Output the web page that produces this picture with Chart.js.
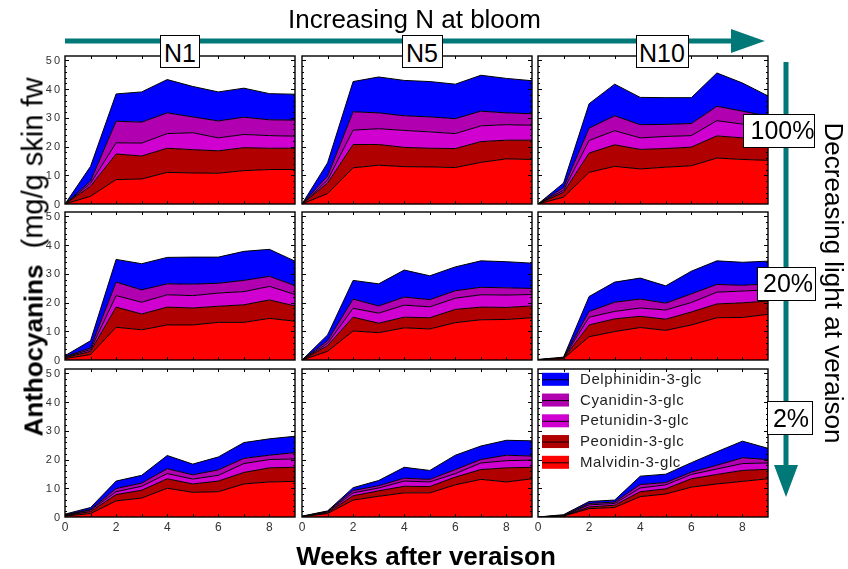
<!DOCTYPE html>
<html><head><meta charset="utf-8">
<script src="https://cdn.jsdelivr.net/npm/chart.js@4.4.1/dist/chart.umd.min.js"></script>
<style>
html,body{margin:0;padding:0;background:#fff}
body{width:848px;height:569px;position:relative;overflow:hidden;font-family:"Liberation Sans",Arial,sans-serif;color:#000}
canvas.panel{position:absolute}
svg#arrows{position:absolute;left:0;top:0}
.box{position:absolute;box-sizing:border-box;border:1px solid #000;background:#fff}
.txt{position:absolute;line-height:1;white-space:nowrap}
</style></head>
<body>
<svg id="arrows" width="848" height="569"></svg>
<script>
// ---------------- DATA ----------------
const weeks = [0,1,2,3,4,5,6,7,8,9];
const compounds = ['Malvidin-3-glc','Peonidin-3-glc','Petunidin-3-glc','Cyanidin-3-glc','Delphinidin-3-glc'];
const nLevels = ['N1','N5','N10'];
const lightLevels = ['100%','20%','2%'];
const yTickLabels = [0,10,20,30,40,50];
const xTickLabels = [0,2,4,6,8];

// N1, 100% light
const mal_N1_100 = [0, 2.7, 8.5, 8.7, 11.0, 10.8, 10.7, 11.6, 12.0, 12.0];
const peo_N1_100 = [0, 3.5, 8.9, 8.0, 8.4, 8.1, 7.8, 8.0, 7.4, 7.4];
const pet_N1_100 = [0, 1.0, 3.9, 4.5, 5.1, 5.9, 4.5, 4.6, 4.4, 4.2];
const cya_N1_100 = [0, 0.8, 7.5, 7.3, 7.2, 5.5, 5.9, 6.0, 5.5, 5.6];
const del_N1_100 = [0, 5.1, 9.5, 10.5, 11.6, 10.6, 10.1, 10.1, 9.1, 9.0];
// N5, 100% light
const mal_N5_100 = [0, 3.6, 12.6, 13.5, 13.0, 12.9, 12.7, 14.5, 15.7, 15.5];
const peo_N5_100 = [0, 3.7, 8.1, 7.2, 6.7, 6.5, 6.6, 7.2, 6.5, 6.7];
const pet_N5_100 = [0, 1.0, 5.0, 5.5, 5.9, 5.7, 5.2, 5.5, 5.4, 5.2];
const cya_N5_100 = [0, 1.4, 6.4, 5.5, 5.1, 5.2, 5.2, 5.1, 4.1, 4.0];
const del_N5_100 = [0, 4.6, 10.5, 12.5, 12.3, 12.3, 12.0, 12.5, 12.0, 11.5];
// N10, 100% light
const mal_N10_100 = [0, 2.4, 11.0, 13.1, 12.2, 12.8, 13.3, 16.0, 15.5, 15.2];
const peo_N10_100 = [0, 1.7, 6.7, 7.5, 6.8, 6.5, 6.5, 7.7, 7.5, 7.2];
const pet_N10_100 = [0, 0.7, 4.4, 4.9, 4.0, 4.2, 4.0, 5.3, 4.8, 4.9];
const cya_N10_100 = [0, 0.9, 4.3, 5.2, 4.6, 4.2, 4.2, 5.0, 4.5, 3.3];
const del_N10_100 = [0, 1.6, 8.5, 11.0, 9.5, 9.3, 9.0, 11.6, 9.8, 7.0];
// N1, 20% light
const mal_N1_20 = [0.5, 1.9, 11.4, 10.5, 12.2, 12.2, 13.1, 13.1, 14.5, 13.5];
const peo_N1_20 = [0.3, 1.1, 7.0, 5.5, 6.2, 5.9, 5.6, 6.1, 6.4, 5.3];
const pet_N1_20 = [0.2, 0.6, 4.0, 4.1, 4.3, 4.3, 4.6, 4.6, 4.7, 4.0];
const cya_N1_20 = [0.2, 0.6, 4.7, 4.3, 3.8, 4.0, 3.4, 3.9, 3.5, 3.1];
const del_N1_20 = [0.3, 2.5, 7.9, 9.1, 9.2, 9.4, 9.1, 10.1, 9.4, 8.5];
// N5, 20% light
const mal_N5_20 = [0, 3.0, 10.1, 9.5, 11.2, 10.8, 13.0, 14.0, 14.1, 14.7];
const peo_N5_20 = [0, 2.0, 4.8, 3.3, 3.7, 3.9, 4.6, 4.4, 4.2, 4.1];
const pet_N5_20 = [0, 0.8, 3.1, 3.5, 4.2, 3.8, 3.9, 4.3, 4.3, 4.0];
const cya_N5_20 = [0, 0.9, 3.2, 2.5, 2.8, 2.5, 2.6, 2.6, 2.5, 2.1];
const del_N5_20 = [0, 2.0, 6.5, 7.7, 9.4, 8.3, 8.3, 9.2, 9.1, 8.8];
// N10, 20% light
const mal_N10_20 = [0.1, 0.5, 8.1, 9.9, 11.3, 10.3, 12.2, 14.7, 14.8, 15.9];
const peo_N10_20 = [0, 0.1, 4.1, 4.4, 3.9, 3.9, 4.5, 4.8, 5.1, 4.6];
const pet_N10_20 = [0, 0.1, 2.7, 2.6, 2.9, 3.2, 3.3, 4.1, 4.1, 3.9];
const cya_N10_20 = [0, 0.1, 2.0, 3.2, 3.1, 2.4, 3.0, 2.7, 2.0, 2.1];
const del_N10_20 = [0.1, 0.2, 5.2, 7.0, 7.3, 6.0, 7.9, 8.2, 8.0, 7.9];
// N1, 2% light
const mal_N1_2 = [0.3, 1.2, 5.6, 6.6, 10.0, 8.6, 8.8, 11.5, 12.2, 12.4];
const peo_N1_2 = [0.2, 0.7, 2.2, 2.7, 3.3, 2.9, 3.7, 4.0, 4.9, 4.9];
const pet_N1_2 = [0.1, 0.5, 1.0, 1.4, 1.8, 1.7, 2.0, 3.1, 2.9, 2.9];
const cya_N1_2 = [0.1, 0.2, 1.1, 1.1, 1.7, 1.5, 1.9, 1.8, 1.5, 2.2];
const del_N1_2 = [0.3, 0.7, 2.6, 2.7, 4.6, 3.7, 4.5, 5.5, 5.7, 5.7];
// N5, 2% light
const mal_N5_2 = [0.1, 1.2, 5.9, 7.2, 8.4, 8.4, 11.2, 13.1, 12.2, 13.3];
const peo_N5_2 = [0.1, 0.3, 1.5, 1.9, 2.3, 2.2, 2.7, 3.4, 4.9, 4.0];
const pet_N5_2 = [0, 0.3, 1.0, 1.0, 1.8, 1.6, 1.2, 2.3, 2.5, 2.5];
const cya_N5_2 = [0, 0.2, 0.8, 0.8, 1.0, 0.9, 1.4, 1.2, 1.9, 1.4];
const del_N5_2 = [0.1, 0.1, 1.0, 1.8, 3.8, 3.1, 5.0, 4.7, 5.2, 5.3];
// N10, 2% light
const mal_N10_2 = [0, 0.3, 2.9, 3.3, 7.1, 8.0, 10.4, 11.5, 12.4, 13.3];
const peo_N10_2 = [0, 0.1, 0.6, 0.8, 1.7, 1.8, 2.9, 3.3, 3.8, 3.3];
const pet_N10_2 = [0, 0.1, 0.7, 0.6, 1.3, 1.4, 1.5, 1.9, 2.4, 2.2];
const cya_N10_2 = [0, 0.1, 0.5, 0.5, 1.2, 0.8, 0.8, 1.3, 2.0, 1.2];
const del_N10_2 = [0, 0.2, 0.7, 0.7, 2.9, 2.9, 3.3, 4.7, 5.8, 3.9];

// ---------------- LAYOUT / STYLE ----------------
const colors = ['#ff0000','#b00000','#d000d0','#b000b0','#0000ff'];
const teal = '#007878';
const colLeft = [65, 302, 538];
const rowTop = [56, 212, 369];
const PW = 230, PH = 148;
const PAD = {left:45, right:12, top:10, bottom:26};
const Y_MAX = 51.5;

const panelSeries = [
  [[mal_N1_100,peo_N1_100,pet_N1_100,cya_N1_100,del_N1_100],
   [mal_N5_100,peo_N5_100,pet_N5_100,cya_N5_100,del_N5_100],
   [mal_N10_100,peo_N10_100,pet_N10_100,cya_N10_100,del_N10_100]],
  [[mal_N1_20,peo_N1_20,pet_N1_20,cya_N1_20,del_N1_20],
   [mal_N5_20,peo_N5_20,pet_N5_20,cya_N5_20,del_N5_20],
   [mal_N10_20,peo_N10_20,pet_N10_20,cya_N10_20,del_N10_20]],
  [[mal_N1_2,peo_N1_2,pet_N1_2,cya_N1_2,del_N1_2],
   [mal_N5_2,peo_N5_2,pet_N5_2,cya_N5_2,del_N5_2],
   [mal_N10_2,peo_N10_2,pet_N10_2,cya_N10_2,del_N10_2]]
];

const framePlugin = {
  id: 'frame',
  afterDatasetsDraw(chart, args, opts) {
    const {ctx, chartArea: a, scales: {x, y}} = chart;
    ctx.save();
    ctx.strokeStyle = '#000'; ctx.lineWidth = 1;
    ctx.beginPath();
    for (let w = 1; w < 9; w++) {
      const px = Math.round(x.getPixelForValue(w)) + 0.5;
      ctx.moveTo(px, a.bottom); ctx.lineTo(px, a.bottom - 3);
      ctx.moveTo(px, a.top); ctx.lineTo(px, a.top + 3);
    }
    for (let v = 2; v <= 50; v += 2) {
      const py = Math.round(y.getPixelForValue(v)) + 0.5;
      const L = (v % 10 === 0) ? 4 : 2;
      ctx.moveTo(a.left, py); ctx.lineTo(a.left + L, py);
      ctx.moveTo(a.right, py); ctx.lineTo(a.right - L, py);
    }
    ctx.stroke();
    ctx.lineWidth = 1.4;
    ctx.strokeRect(a.left, a.top, a.right - a.left, a.bottom - a.top);
    ctx.fillStyle = '#333';
    if (opts.yLabels) {
      ctx.font = '11px "Liberation Sans", Arial, sans-serif';
      ctx.letterSpacing = '2px';
      ctx.textAlign = 'right'; ctx.textBaseline = 'middle';
      yTickLabels.forEach(v => ctx.fillText(String(v), a.left - 3, y.getPixelForValue(v) + 0.5));
    }
    if (opts.xLabels) {
      ctx.font = '12px "Liberation Sans", Arial, sans-serif';
      ctx.letterSpacing = '0px';
      ctx.textAlign = 'center'; ctx.textBaseline = 'middle';
      xTickLabels.forEach(v => ctx.fillText(String(v), x.getPixelForValue(v), a.bottom + 11));
    }
    if (opts.legend) {
      ctx.font = '15px "Liberation Sans", Arial, sans-serif';
      ctx.letterSpacing = '0.6px';
      ctx.textAlign = 'left'; ctx.textBaseline = 'middle';
      for (let k = 0; k < compounds.length; k++) {
        const idx = compounds.length - 1 - k;
        const cy = a.top + 10.3 + k * 20.75;
        const bx = a.left + 4;
        ctx.fillStyle = colors[idx];
        ctx.fillRect(bx, cy - 6.5, 27, 13);
        ctx.strokeStyle = '#000'; ctx.lineWidth = 1;
        ctx.beginPath(); ctx.moveTo(bx, cy + 0.5); ctx.lineTo(bx + 27, cy + 0.5); ctx.stroke();
        ctx.fillStyle = '#222';
        ctx.fillText(compounds[idx], a.left + 42, cy + 0.5);
      }
    }
    ctx.restore();
  }
};

for (let r = 0; r < 3; r++) {
  for (let c = 0; c < 3; c++) {
    const cv = document.createElement('canvas');
    cv.className = 'panel';
    const W = PW + PAD.left + PAD.right, H = PH + PAD.top + PAD.bottom;
    cv.width = W; cv.height = H;
    cv.style.left = (colLeft[c] - PAD.left) + 'px';
    cv.style.top = (rowTop[r] - PAD.top) + 'px';
    cv.style.width = W + 'px'; cv.style.height = H + 'px';
    document.body.appendChild(cv);
    const series = panelSeries[r][c];
    const datasets = series.map((vals, i) => ({
      label: compounds[i],
      data: weeks.map((w, j) => ({x: w, y: vals[j]})),
      backgroundColor: colors[i],
      borderColor: '#000',
      borderWidth: 1,
      pointRadius: 0,
      tension: 0,
      fill: i === 0 ? 'origin' : '-1'
    }));
    new Chart(cv, {
      type: 'line',
      data: {datasets},
      options: {
        responsive: false, animation: false, devicePixelRatio: 1,
        layout: {padding: PAD},
        scales: {
          x: {type: 'linear', min: 0, max: 9, display: false},
          y: {stacked: true, min: 0, max: Y_MAX, display: false}
        },
        plugins: {
          legend: {display: false}, tooltip: {enabled: false},
          frame: {yLabels: c === 0, xLabels: r === 2, legend: r === 2 && c === 2}
        }
      },
      plugins: [framePlugin]
    });
  }
}

// ---------------- ARROWS ----------------
const svg = document.getElementById('arrows');
svg.innerHTML =
  `<rect x="65" y="38.5" width="668" height="5" fill="${teal}"/>` +
  `<polygon points="731,29 731,53 765,41" fill="${teal}"/>` +
  `<rect x="783.5" y="62" width="5" height="404" fill="${teal}"/>` +
  `<polygon points="774,465 798,465 786,497" fill="${teal}"/>`;

// ---------------- TEXT / BOXES ----------------
function addBox(l, t, w, h) {
  const d = document.createElement('div');
  d.className = 'box';
  Object.assign(d.style, {left: l + 'px', top: t + 'px', width: w + 'px', height: h + 'px'});
  document.body.appendChild(d);
}
function addText(html, cx, baseline, fs, extra) {
  const d = document.createElement('div');
  d.className = 'txt';
  d.innerHTML = html;
  d.style.fontSize = fs + 'px';
  d.style.top = (baseline - 0.8465 * fs) + 'px';
  d.style.left = cx + 'px';
  d.style.transform = 'translateX(-50%)';
  if (extra) Object.assign(d.style, extra);
  document.body.appendChild(d);
  return d;
}
addText('Increasing N at bloom', 414.5, 28.5, 26);
const nBoxes = [[160, 40], [401.5, 41], [635.5, 53]];
nLevels.forEach((t, i) => {
  addBox(nBoxes[i][0], 35, nBoxes[i][1], 33);
  addText(t, nBoxes[i][0] + nBoxes[i][1] / 2, 62.5, 25);
});
const lBoxes = [[743, 114, 72, 34, 782.5, 139.5], [757, 267, 59, 34, 788, 292], [767, 401, 46, 34, 791, 427]];
lightLevels.forEach((t, i) => {
  const b = lBoxes[i];
  addBox(b[0], b[1], b[2], b[3]);
  addText(t, b[4], b[5], 25);
});
addText('<b>Weeks after veraison</b>', 426, 565, 26);
{
  const fs = 26;
  const d = document.createElement('div');
  d.className = 'txt'; d.style.fontSize = fs + 'px';
  d.textContent = 'Decreasing light at veraison';
  document.body.appendChild(d);
  const len = d.offsetWidth;
  const cx = 825 + 0.3465 * fs, cy = 122 + len / 2;
  Object.assign(d.style, {left: cx + 'px', top: cy + 'px', transform: 'translate(-50%,-50%) rotate(90deg)'});
}
{
  const fs = 29;
  const d = document.createElement('div');
  d.className = 'txt'; d.style.fontSize = fs + 'px';
  d.innerHTML = '<b style="font-size:26px">Anthocyanins</b>&nbsp;&nbsp;(mg/g skin fw';
  document.body.appendChild(d);
  const len = d.offsetWidth;
  const cx = 43 - 0.3465 * fs, cy = 256.5;
  Object.assign(d.style, {left: cx + 'px', top: cy + 'px', transform: 'translate(-50%,-50%) rotate(-90deg)'});
}
</script>
</body></html>
